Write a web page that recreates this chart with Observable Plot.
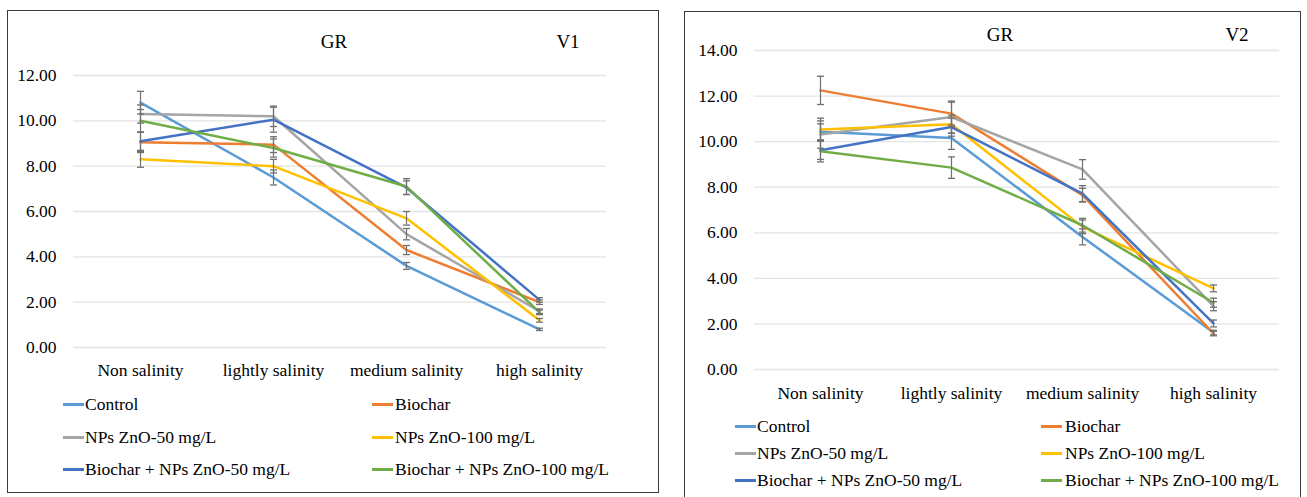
<!DOCTYPE html>
<html>
<head>
<meta charset="utf-8">
<script src="https://cdn.jsdelivr.net/npm/d3@7"></script>
<script src="https://cdn.jsdelivr.net/npm/@observablehq/plot@0.6"></script>
<style>
  html, body { margin: 0; padding: 0; background: #fff; }
  body { width: 1307px; height: 497px; position: relative; overflow: hidden; font-family: "Liberation Serif", serif; color: #000; }
  .frame { position: absolute; border: 1.4px solid #3a3a3a; box-sizing: border-box; pointer-events: none; }
  .title { position: absolute; font-size: 19px; transform: translate(-50%, -50%); white-space: nowrap; }
  .leg { position: absolute; font-size: 17.5px; white-space: nowrap; transform: translateY(-50%); }
  .sw { position: absolute; height: 2.5px; width: 21px; }
</style>
</head>
<body>
<script>
const categories = ["Non salinity", "lightly salinity", "medium salinity", "high salinity"];
const series = ["Control", "Biochar", "NPs ZnO-50 mg/L", "NPs ZnO-100 mg/L", "Biochar + NPs ZnO-50 mg/L", "Biochar + NPs ZnO-100 mg/L"];
const colors = ["#5B9BD5", "#ED7D31", "#A5A5A5", "#FFC000", "#4472C4", "#70AD47"];

// Panel V1
const v1Values = [
  [10.8, 7.5, 3.6, 0.8],
  [9.05, 8.95, 4.3, 2.0],
  [10.3, 10.2, 5.0, 1.6],
  [8.3, 8.0, 5.7, 1.2],
  [9.1, 10.05, 7.05, 2.1],
  [10.0, 8.8, 7.1, 1.55]
];
const v1Errors = [
  [0.5, 0.33, 0.15, 0.05],
  [0.45, 0.35, 0.2, 0.1],
  [0.4, 0.45, 0.25, 0.1],
  [0.35, 0.3, 0.3, 0.08],
  [0.4, 0.55, 0.3, 0.1],
  [0.5, 0.4, 0.35, 0.1]
];
const v1Ticks = [0, 2, 4, 6, 8, 10, 12];

// Panel V2
const v2Values = [
  [10.43, 10.16, 5.82, 1.62],
  [12.25, 11.23, 7.65, 1.58],
  [10.31, 11.08, 8.78, 2.78],
  [10.53, 10.76, 6.26, 3.56],
  [9.62, 10.64, 7.72, 2.02],
  [9.58, 8.86, 6.33, 2.93]
];
const v2Errors = [
  [0.35, 0.5, 0.35, 0.1],
  [0.62, 0.5, 0.3, 0.1],
  [0.6, 0.7, 0.43, 0.2],
  [0.5, 0.4, 0.3, 0.15],
  [0.4, 0.4, 0.35, 0.15],
  [0.47, 0.47, 0.3, 0.2]
];
const v2Ticks = [0, 2, 4, 6, 8, 10, 12, 14];

function toRows(values, errors) {
  const out = [];
  series.forEach((s, i) => categories.forEach((c, j) => {
    out.push({series: s, category: c, value: values[i][j], err: errors[i][j]});
  }));
  return out;
}

const capSymbol = {
  draw(context, size) {
    const r = Math.sqrt(size / Math.PI);
    context.moveTo(-r, 0);
    context.lineTo(r, 0);
  }
};

function makeChart(data, ticks, opts) {
  return Plot.plot({
    width: opts.width,
    height: 497,
    marginLeft: opts.marginLeft,
    marginRight: opts.marginRight,
    marginTop: opts.marginTop,
    marginBottom: opts.marginBottom,
    style: {background: "transparent", fontFamily: "Liberation Serif", fontSize: "17.5px", color: "#000", overflow: "visible"},
    x: {type: "point", domain: categories, padding: 0.5, label: null},
    y: {domain: [0, ticks[ticks.length - 1]], label: null},
    color: {domain: series, range: colors},
    marks: [
      Plot.ruleY(ticks, {stroke: "#e4e4e4", strokeWidth: 1.3}),
      Plot.axisY({ticks: ticks, tickSize: 0, tickPadding: 17, tickFormat: d => d.toFixed(2), label: null}),
      Plot.axisX({tickSize: 0, tickPadding: opts.xPad, label: null}),
      Plot.line(data, {x: "category", y: "value", z: "series", stroke: "series", strokeWidth: 2.5}),
      Plot.ruleX(data, {x: "category", y1: d => d.value - d.err, y2: d => d.value + d.err, stroke: "#707070", strokeWidth: 1.2}),
      Plot.dot(data, {x: "category", y: d => d.value - d.err, symbol: capSymbol, r: 3.5, stroke: "#707070", fill: "none", strokeWidth: 1.3}),
      Plot.dot(data, {x: "category", y: d => d.value + d.err, symbol: capSymbol, r: 3.5, stroke: "#707070", fill: "none", strokeWidth: 1.3})
    ]
  });
}

function place(el, left, top) {
  el.style.position = "absolute";
  el.style.left = left + "px";
  el.style.top = top + "px";
  document.body.appendChild(el);
}

const chart1 = makeChart(toRows(v1Values, v1Errors), v1Ticks,
  {width: 660, marginLeft: 73, marginRight: 54, marginTop: 75, marginBottom: 150, xPad: 16});
place(chart1, 0, 0);

const chart2 = makeChart(toRows(v2Values, v2Errors), v2Ticks,
  {width: 627, marginLeft: 74, marginRight: 28, marginTop: 50, marginBottom: 128, xPad: 17});
place(chart2, 680, 0);

function addDiv(cls, text, left, top) {
  const d = document.createElement("div");
  d.className = cls;
  d.textContent = text;
  d.style.left = left + "px";
  d.style.top = top + "px";
  document.body.appendChild(d);
  return d;
}

// Frames
const f1 = document.createElement("div");
f1.className = "frame";
Object.assign(f1.style, {left: "7px", top: "10px", width: "652px", height: "483px"});
document.body.appendChild(f1);
const f2 = document.createElement("div");
f2.className = "frame";
Object.assign(f2.style, {left: "684px", top: "11px", width: "617px", height: "500px"});
document.body.appendChild(f2);

// Titles
addDiv("title", "GR", 334, 42);
addDiv("title", "V1", 568, 42);
addDiv("title", "GR", 1000, 35);
addDiv("title", "V2", 1237, 35);

// Legends
function legend(lineX, textX, rowY) {
  series.forEach((s, i) => {
    const col = i % 2, row = Math.floor(i / 2);
    const sw = document.createElement("div");
    sw.className = "sw";
    sw.style.background = colors[i];
    sw.style.left = lineX[col] + "px";
    sw.style.top = (rowY[row] - 1) + "px";
    document.body.appendChild(sw);
    addDiv("leg", s, textX[col], rowY[row]);
  });
}
legend([63, 372], [85, 395], [404, 437, 469]);
legend([735, 1041], [757, 1065], [426, 453, 480]);
</script>
</body>
</html>
